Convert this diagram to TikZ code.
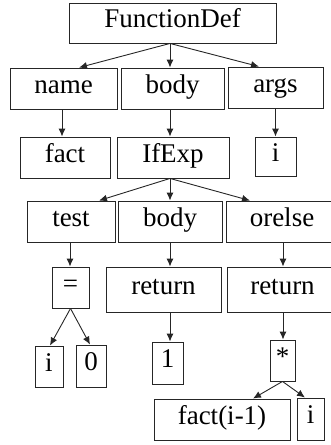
\documentclass[tikz,border=0pt]{standalone}
\usepackage{fontspec}
\setmainfont{Liberation Serif}
\usetikzlibrary{arrows.meta}

\tikzset{
    astbox/.style={draw=black!85, line width=0.9pt, inner sep=0pt,
        text height=18pt, text depth=9pt, minimum height=41pt,
        font=\fontsize{27}{30}\selectfont},
    astedge/.style={-{Latex[length=8pt,width=7pt]}, line width=0.9pt, draw=black!85},
}

\begin{document}
\begin{tikzpicture}[x=1pt, y=-1pt]
            \useasboundingbox (0,0) rectangle (331,445);
            \clip (0,0) rectangle (331,445);

            % FunctionDef and its fields
            \node (fundef) at (172.5, 23) [astbox, minimum width=207, minimum height=40] {FunctionDef};
            \node (name)   at ( 63.5, 88.5) [astbox, minimum width=107] {name};
            \node (body)   at (172.5, 88.5) [astbox, minimum width=103] {body};
            \node (args)   at (275.5, 87.5) [astbox, minimum width=95]  {args};
            \coordinate (fdsplit) at ([xshift=-2.5pt]fundef.south);
            \draw [astedge] (fdsplit) -- ([xshift=15.5pt]name.north);
            \draw [astedge] (fdsplit) -- (fdsplit |- body.north);
            \draw [astedge] (fdsplit) -- ([xshift=-16.5pt]args.north);

            % values of the fields
            \node (fact)  at ( 65,   157.5) [astbox, minimum width=90]  {fact};
            \node (ifexp) at (173,   157.5) [astbox, minimum width=112] {IfExp};
            \node (iarg)  at (275.5, 156.5) [astbox, minimum width=41, minimum height=39] {i};
            \draw [astedge] ([xshift=-1.5pt]name.south) -- ([xshift=-1.5pt]name.south |- fact.north);
            \draw [astedge] (fdsplit |- body.south) -- (fdsplit |- ifexp.north);
            \draw [astedge] (args.south) -- (args.south |- iarg.north);

            % IfExp fields
            \node (test)   at ( 71, 221.5) [astbox, minimum width=88]  {test};
            \node (body2)  at (170, 221.5) [astbox, minimum width=104] {body};
            \node (orelse) at (282, 221.5) [astbox, minimum width=112] {orelse};
            \coordinate (ifsplit) at (ifexp.south -| body2.north);
            \draw [astedge] (ifsplit) -- ([xshift=28pt]test.north);
            \draw [astedge] (ifsplit) -- (body2.north);
            \draw [astedge] (ifsplit) -- ([xshift=-32pt]orelse.north);

            % compare and the two returns
            \node (eq)      at ( 70.5, 287.5) [astbox, minimum width=37] {=};
            \node (return1) at (163.5, 289.5) [astbox, minimum width=115, minimum height=45] {return};
            \node (return2) at (282.5, 289.5) [astbox, minimum width=111, minimum height=45] {return};
            \draw [astedge] ([xshift=-1pt]test.south) -- ([xshift=-1pt]test.south |- eq.north);
            \draw [astedge] (body2.south) -- (body2.south |- return1.north);
            \draw [astedge] ([xshift=1pt]orelse.south) -- ([xshift=1pt]orelse.south |- return2.north);

            % leaves
            \node (ileaf) at ( 49,   366.5) [astbox, minimum width=28] {i};
            \node (zero)  at ( 91,   366)   [astbox, minimum width=30, minimum height=42] {0};
            \node (one)   at (167.5, 363)   [astbox, minimum width=31, minimum height=42] {1};
            \node (star)  at (282.5, 360.5) [astbox, minimum width=25] {*};
            \draw [astedge] (eq.south) -- ([xshift=1pt]ileaf.north);
            \draw [astedge] (eq.south) -- ([xshift=-1pt]zero.north);
            \draw [astedge] (body2.south |- return1.south) -- (body2.south |- one.north);
            \draw [astedge] ([xshift=1pt]orelse.south |- return2.south) -- ([xshift=1pt]orelse.south |- star.north);

            % factor of the product
            \node (factcall) at (222,   419.5) [astbox, minimum width=136] {fact(i-1)};
            \node (ilast)    at (310.5, 419)   [astbox, minimum width=27, minimum height=42] {i};
            \draw [astedge] (star.south) -- ([xshift=31pt]factcall.north);
            \draw [astedge] (star.south) -- ([xshift=-5.5pt]ilast.north);
        \end{tikzpicture}
\end{document}
